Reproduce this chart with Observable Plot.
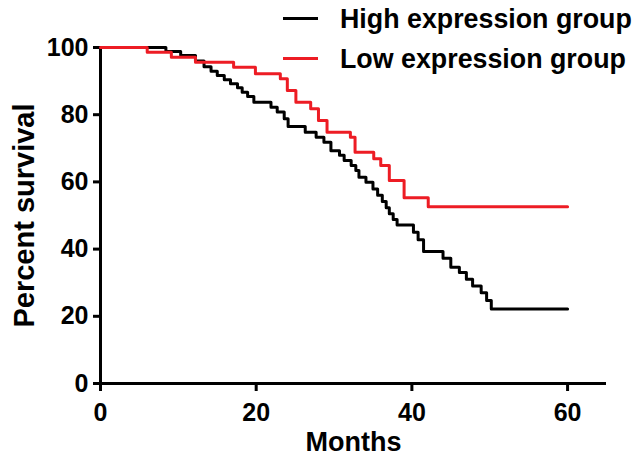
<!DOCTYPE html>
<html>
<head>
<meta charset="utf-8">
<script src="https://cdn.jsdelivr.net/npm/d3@7"></script>
<script src="https://cdn.jsdelivr.net/npm/@observablehq/plot@0.6"></script>
<style>
  html, body { margin: 0; padding: 0; background: white; }
  #wrap { position: relative; width: 640px; height: 462px; font-family: "Liberation Sans", Arial, sans-serif; overflow: hidden; }
  .lg-line { position: absolute; left: 283px; width: 35px; height: 3px; }
  .lg-text { position: absolute; left: 340px; font-size: 26px; font-weight: bold; white-space: nowrap; color: #000; line-height: 1; }
</style>
</head>
<body>
<div id="wrap">
  <div id="chart"></div>
  <div class="lg-line" style="top:17px;background:#000"></div>
  <div class="lg-text" id="lg1">High expression group</div>
  <div class="lg-line" style="top:57px;background:#ed1c24"></div>
  <div class="lg-text" id="lg2">Low expression group</div>
</div>
<script>
// High expression group (Kaplan-Meier, step after)
const highMonths = [0, 8.4, 10.3, 12.2, 13.3, 14.2, 15.0, 15.9, 16.7, 17.6, 18.2, 18.9, 19.7, 21.9, 22.7, 23.6, 24.1, 26.3, 27.7, 28.7, 29.6, 30.7, 31.3, 32.2, 32.8, 33.2, 34.1, 35.0, 35.6, 36.2, 36.7, 37.1, 37.6, 38.1, 40.2, 40.8, 41.5, 44.0, 45.0, 46.1, 47.0, 47.8, 48.9, 49.6, 50.2, 60];
const highSurvival = [100, 98.8, 97.6, 96.0, 94.3, 92.9, 91.7, 90.4, 89.2, 88.0, 86.7, 85.4, 83.7, 82.2, 80.8, 78.8, 76.5, 74.8, 73.3, 71.8, 69.3, 67.9, 66.4, 64.9, 63.4, 61.4, 59.9, 57.9, 56.0, 54.2, 52.3, 50.5, 48.8, 47.2, 45.0, 42.8, 39.3, 37.3, 34.6, 33.0, 31.0, 29.0, 27.0, 24.7, 22.2, 22.2];
// Low expression group
const lowMonths = [0, 6.0, 9.1, 12.2, 17.1, 19.9, 23.1, 24.0, 25.1, 27.0, 28.0, 29.1, 32.1, 32.7, 35.1, 36.0, 37.1, 39.0, 42.1, 60];
const lowSurvival = [100, 98.6, 97.1, 95.6, 94.1, 92.2, 90.7, 87.2, 83.7, 81.8, 78.3, 74.8, 73.3, 68.8, 66.9, 64.9, 60.4, 55.3, 52.6, 52.6];

const xTicks = [0, 20, 40, 60];
const yTicks = [0, 20, 40, 60, 80, 100];

const high = highMonths.map((m, i) => ({month: m, survival: highSurvival[i]}));
const low = lowMonths.map((m, i) => ({month: m, survival: lowSurvival[i]}));

const font = "'Liberation Sans', Arial, sans-serif";

const chart = Plot.plot({
  width: 640,
  height: 462,
  marginLeft: 100,
  marginRight: 34,
  marginTop: 47,
  marginBottom: 79,
  x: {domain: [0, 65]},
  y: {domain: [0, 100]},
  style: {fontFamily: font, background: "white", color: "black"},
  marks: [
    Plot.axisX({ticks: xTicks, tickSize: 8, tickPadding: 12, strokeWidth: 3, fontSize: 25, fontWeight: "bold", label: null}),
    Plot.axisY({ticks: yTicks, tickSize: 7, tickPadding: 5, strokeWidth: 3, fontSize: 25, fontWeight: "bold", label: null}),
    Plot.ruleY([0], {stroke: "black", strokeWidth: 3}),
    Plot.ruleX([0], {stroke: "black", strokeWidth: 3}),
    Plot.line(high, {x: "month", y: "survival", curve: "step-after", stroke: "black", strokeWidth: 3}),
    Plot.line(low, {x: "month", y: "survival", curve: "step-after", stroke: "#ed1c24", strokeWidth: 3}),
    Plot.text(["Months"], {text: d => d, frameAnchor: "bottom", textAnchor: "middle", dy: 67, fontSize: 27, fontWeight: "bold"}),
    Plot.text(["Percent survival"], {text: d => d, frameAnchor: "left", textAnchor: "middle", dx: -76, rotate: -90, fontSize: 29, fontWeight: "bold"})
  ]
});
document.getElementById("chart").appendChild(chart);

// fit legend text: "High expression group" should span ~294px; baselines at 28 and 68
const lg1 = document.getElementById("lg1"), lg2 = document.getElementById("lg2");
const w = lg1.getBoundingClientRect().width;
const fs = Math.min(28, 26 * 292 / w);
for (const [el, base] of [[lg1, 28], [lg2, 68]]) {
  el.style.fontSize = fs + "px";
  el.style.lineHeight = fs + "px";
  // baseline offset within a line box of height fs: ascent 0.905em minus half of (1.149em - 1em)
  el.style.top = (base - (0.905 - 0.0745) * fs) + "px";
}
</script>
</body>
</html>
